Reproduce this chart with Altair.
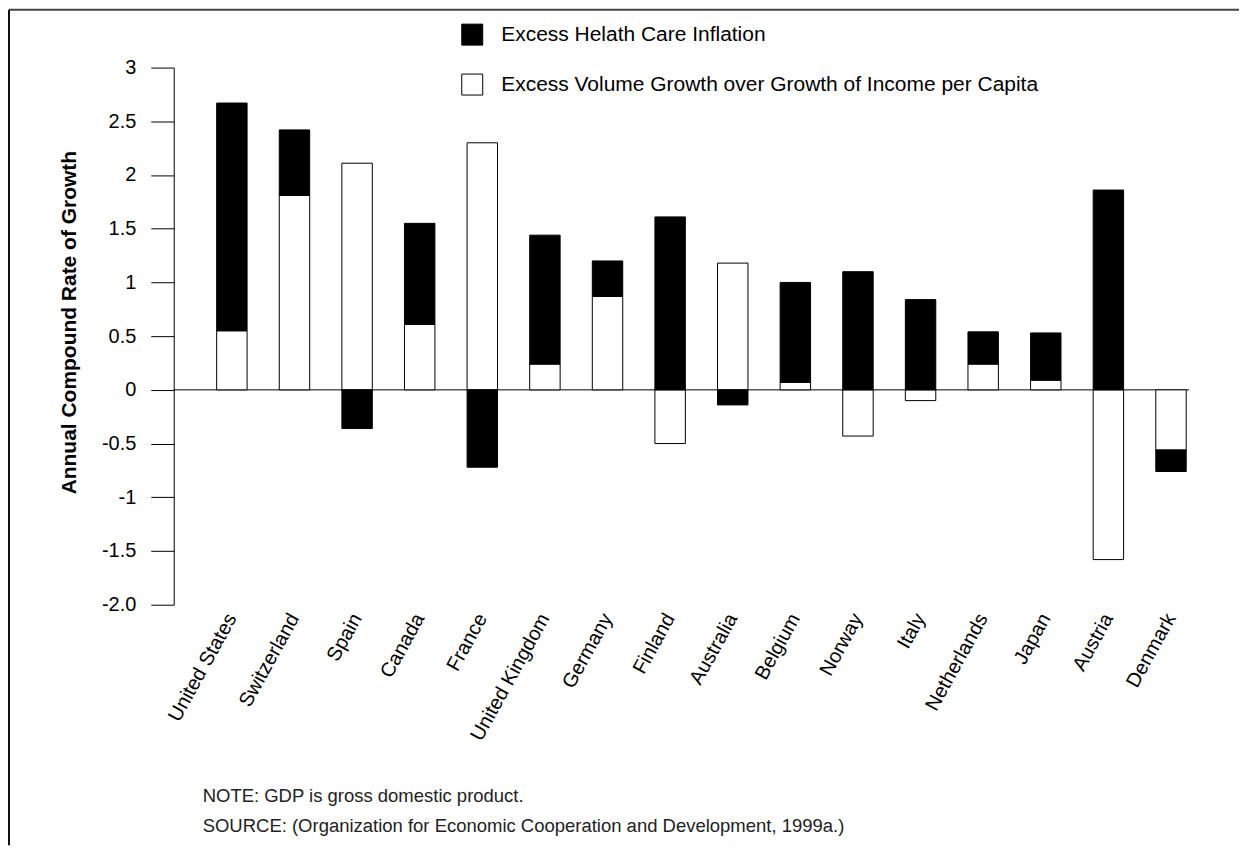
import altair as alt
import pandas as pd

countries = ["United States", "Switzerland", "Spain", "Canada", "France",
             "United Kingdom", "Germany", "Finland", "Australia", "Belgium",
             "Norway", "Italy", "Netherlands", "Japan", "Austria", "Denmark"]
volume_growth = [0.55, 1.81, 2.11, 0.61, 2.30, 0.24, 0.87, -0.50, 1.18, 0.07,
                 -0.43, -0.10, 0.24, 0.09, -1.58, -0.56]
inflation = [2.12, 0.61, -0.36, 0.94, -0.72, 1.20, 0.33, 1.61, -0.14, 0.93,
             1.10, 0.84, 0.30, 0.44, 1.86, -0.20]
series_names = ["Excess Helath Care Inflation",
                "Excess Volume Growth over Growth of Income per Capita"]
y_ticks = [-2, -1.5, -1, -0.5, 0, 0.5, 1, 1.5, 2, 2.5, 3]
notes = ["NOTE: GDP is gross domestic product.",
         "SOURCE: (Organization for Economic Cooperation and Development, 1999a.)"]

rows = []
for c, v, i in zip(countries, volume_growth, inflation):
    rows.append({"country": c, "series": series_names[1], "value": v, "ord": 0})
    rows.append({"country": c, "series": series_names[0], "value": i, "ord": 1})
df = pd.DataFrame(rows)

FONT = "Liberation Sans"
W, H = 1017, 538

bars = alt.Chart(df).mark_bar(stroke="black", strokeWidth=1).encode(
    x=alt.X("country:N", sort=countries,
            scale=alt.Scale(paddingInner=0.514, paddingOuter=0.3657, align=0.9374),
            axis=alt.Axis(title=None, labelAngle=-61, labelFontSize=20, labelFont=FONT,
                          labelColor="black", ticks=False, domain=False,
                          labelPadding=10, labelLimit=0)),
    y=alt.Y("value:Q", stack="zero",
            scale=alt.Scale(domain=[-2, 3], nice=False, zero=False),
            axis=alt.Axis(values=y_ticks, title="Annual Compound Rate of Growth",
                          labelExpr="datum.value == -2 ? '-2.0' : toString(datum.value)",
                          labelFontSize=20, labelFont=FONT, labelColor="black",
                          labelPadding=15, tickSize=23, tickColor="black",
                          domainColor="black", grid=False,
                          titleFont=FONT, titleFontSize=21, titleFontWeight="bold",
                          titleColor="black", titlePadding=22, titleY=255)),
    fill=alt.Fill("series:N",
                  scale=alt.Scale(domain=series_names, range=["black", "white"]),
                  legend=alt.Legend(title=None, orient="none", legendX=288, legendY=-44,
                                    direction="vertical", symbolType="square",
                                    symbolSize=441, symbolStrokeColor="black",
                                    symbolStrokeWidth=1, labelFont=FONT,
                                    labelFontSize=21, labelColor="black",
                                    labelOffset=18, rowPadding=24, labelLimit=0)),
    order=alt.Order("ord:Q"),
)

zero = alt.Chart(pd.DataFrame({"z": [0]})).mark_rule(color="black", strokeWidth=1).encode(
    y="z:Q")

frame_top = alt.Chart(alt.Data(values=[{}])).mark_rule(color="#444", strokeWidth=2).encode(
    x=alt.value(-165), x2=alt.value(1067), y=alt.value(-58))
frame_left = alt.Chart(alt.Data(values=[{}])).mark_rule(color="#111", strokeWidth=2).encode(
    x=alt.value(-165), y=alt.value(-58), y2=alt.value(779))

chart = alt.layer(frame_top, frame_left, zero, bars).properties(
    width=W, height=H, padding=0,
    title=alt.TitleParams(text=notes, orient="bottom", anchor="start", frame="group",
                          dx=29, offset=-59, font=FONT, fontSize=18.5,
                          fontWeight="normal", color="#222", lineHeight=30),
).configure_view(strokeWidth=0)

chart.save("out.html", embed_options={"renderer": "svg", "actions": False})
